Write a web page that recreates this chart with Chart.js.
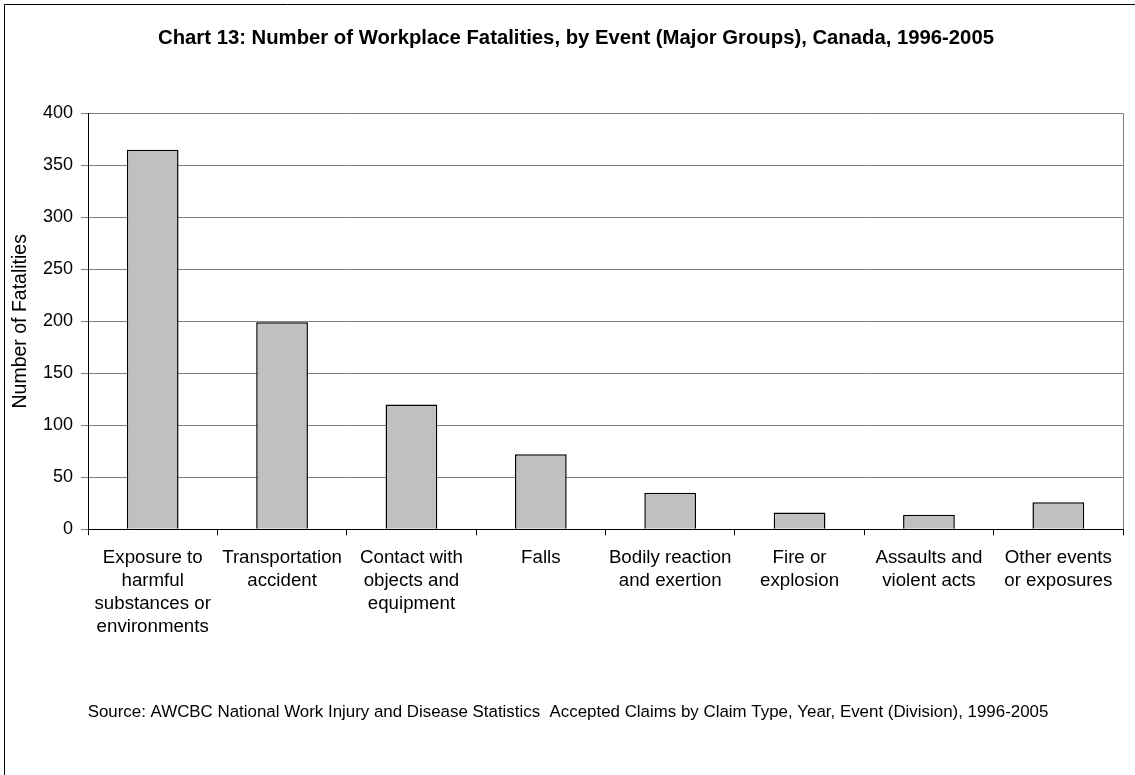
<!DOCTYPE html>
<html>
<head>
<meta charset="utf-8">
<script src="https://cdn.jsdelivr.net/npm/chart.js@4/dist/chart.umd.min.js"></script>
<style>
  html, body { margin: 0; padding: 0; background: #fff; }
  #wrap { width: 1135px; height: 775px; position: relative; }
</style>
</head>
<body>
<div id="wrap"><canvas id="c" width="1135" height="775"></canvas></div>
<script>
const categories = [
  ["Exposure to", "harmful", "substances or", "environments"],
  ["Transportation", "accident"],
  ["Contact with", "objects and", "equipment"],
  ["Falls"],
  ["Bodily reaction", "and exertion"],
  ["Fire or", "explosion"],
  ["Assaults and", "violent acts"],
  ["Other events", "or exposures"]
];
const fatalities = [365, 199, 120, 72, 35, 16, 14, 26];
const yTicks = [0, 50, 100, 150, 200, 250, 300, 350, 400];
const titleText = "Chart 13: Number of Workplace Fatalities, by Event (Major Groups), Canada, 1996-2005";
const sourceText = "Source: AWCBC National Work Injury and Disease Statistics  Accepted Claims by Claim Type, Year, Event (Division), 1996-2005";
const yTitle = "Number of Fatalities";

const FONT = "'Liberation Sans', Arial, sans-serif";

const framePlugin = {
  id: 'frame',
  afterLayout(chart) {
    // nudge the title and source blocks horizontally to match the original centring
    const t = chart.titleBlock;
    if (t) { t.left += 14.5; t.right += 14.5; }
    (chart.boxes || []).forEach(b => {
      if (b !== t && b.options && b.options.text === sourceText) {
        b.left += 6.5; b.right += 6.5;
      }
    });
  },
  afterDraw(chart) {
    const ctx = chart.ctx;
    const a = chart.chartArea;
    ctx.save();
    ctx.strokeStyle = '#000';
    ctx.lineWidth = 1;
    ctx.beginPath();
    ctx.moveTo(4.5, chart.height + 5);
    ctx.lineTo(4.5, 4.5);
    ctx.lineTo(chart.width + 5, 4.5);
    ctx.stroke();
    ctx.strokeStyle = '#808080';
    ctx.beginPath();
    ctx.moveTo(Math.round(a.right) + 0.5, a.top);
    ctx.lineTo(Math.round(a.right) + 0.5, a.bottom);
    ctx.stroke();
    ctx.restore();
  }
};

new Chart(document.getElementById('c'), {
  type: 'bar',
  data: {
    labels: categories,
    datasets: [{
      data: fatalities,
      backgroundColor: '#C0C0C0',
      borderColor: '#000',
      borderWidth: 1.5,
      barPercentage: 0.4,
      categoryPercentage: 1.0
    }]
  },
  options: {
    responsive: false,
    animation: false,
    devicePixelRatio: 1,
    layout: { padding: { left: 0, right: 12, top: 0, bottom: 0 } },
    plugins: {
      legend: { display: false },
      tooltip: { enabled: false },
      title: {
        display: true,
        text: titleText,
        color: '#000',
        font: { family: FONT, size: 20.3, weight: 'bold' },
        padding: { top: 26, bottom: 63 }
      },
      subtitle: {
        display: true,
        position: 'bottom',
        text: sourceText,
        color: '#000',
        font: { family: FONT, size: 16.9 },
        padding: { top: 53, bottom: 52.5 }
      }
    },
    scales: {
      x: {
        grid: { display: true, drawOnChartArea: false, drawTicks: true, tickLength: 6, color: '#000', offset: true },
        border: { display: true, color: '#000', width: 1 },
        ticks: {
          color: '#000',
          font: { family: FONT, size: 18.7, lineHeight: 1.23 },
          maxRotation: 0, minRotation: 0, autoSkip: false, padding: 11
        },
        afterFit(scale) { scale.height = 120; }
      },
      y: {
        min: 0, max: 400,
        afterBuildTicks(scale) { scale.ticks = yTicks.map(v => ({ value: v })); },
        grid: { color: '#808080', lineWidth: 1, tickLength: 7, drawTicks: true },
        border: { display: true, color: '#000', width: 1 },
        ticks: { color: '#000', font: { family: FONT, size: 18 }, padding: 8 },
        title: {
          display: true, text: yTitle, color: '#000',
          font: { family: FONT, size: 19.5 }, padding: { top: 9, bottom: 0 }
        },
        afterFit(scale) { scale.width = 88; }
      }
    }
  },
  plugins: [framePlugin]
});
</script>
</body>
</html>
